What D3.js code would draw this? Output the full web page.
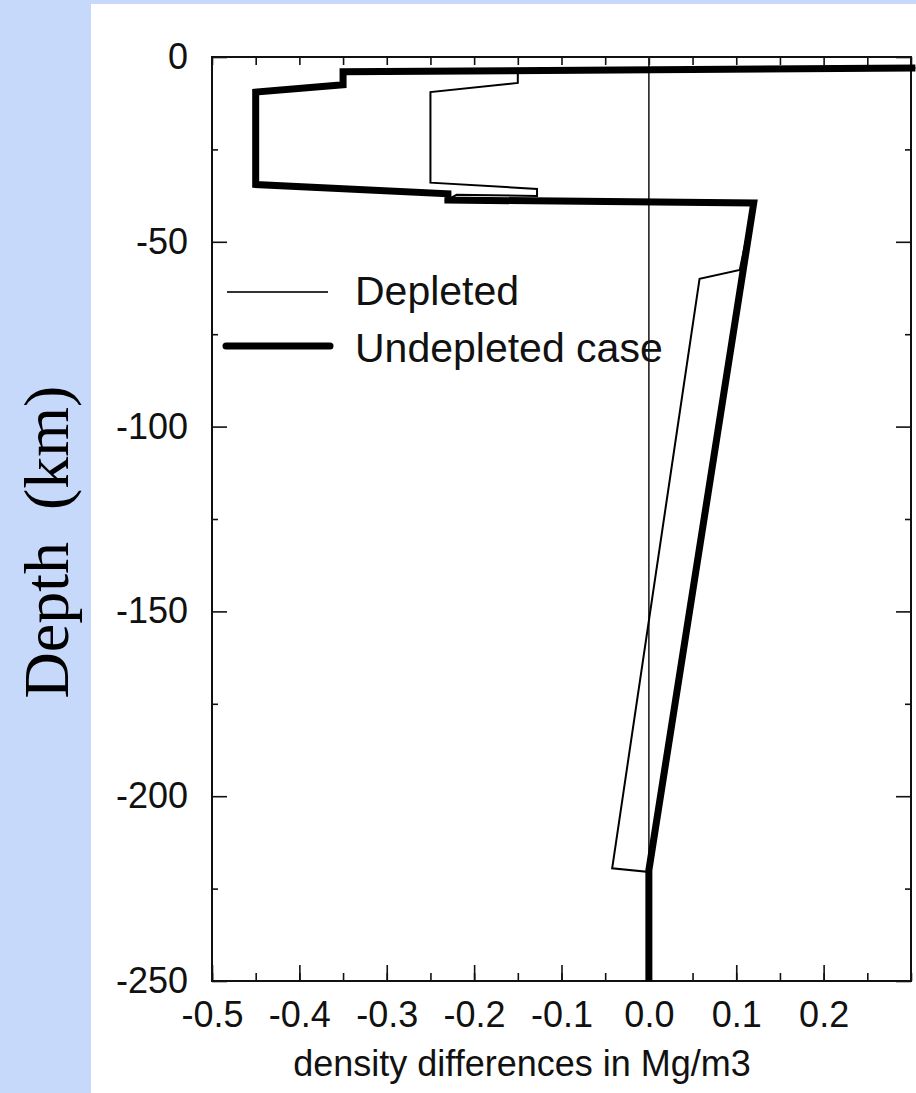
<!DOCTYPE html>
<html>
<head>
<meta charset="utf-8">
<script src="https://cdn.jsdelivr.net/npm/d3@7"></script>
<style>
  html, body { margin: 0; padding: 0; background: #c6d9fb; }
  svg { display: block; }
</style>
</head>
<body>
<script>
// Density contrast profiles (Mg/m3) against depth (km)
const depletedDensity   = [0.305, -0.15, -0.15, -0.25, -0.25, -0.128, -0.128, -0.22, -0.23, 0.12, 0.104, 0.058, -0.042, 0.0, 0.0];
const depletedDepth     = [-3, -3.5, -7, -9.5, -34, -35.7, -37.6, -37.3, -38.6, -39.5, -57.6, -60, -219.5, -220.5, -250];
const undepletedDensity = [0.305, -0.35, -0.35, -0.45, -0.45, -0.23, -0.23, 0.12, 0.0, 0.0];
const undepletedDepth   = [-3, -4, -7.5, -9.5, -34.5, -37, -38.7, -39.5, -220, -250];

const xTickValues = [-0.5, -0.4, -0.3, -0.2, -0.1, 0.0, 0.1, 0.2];
const xTickLabels = ["-0.5", "-0.4", "-0.3", "-0.2", "-0.1", "0.0", "0.1", "0.2"];
const yTickValues = [0, -50, -100, -150, -200, -250];
const yTickLabels = ["0", "-50", "-100", "-150", "-200", "-250"];
const xMinorValues = d3.range(-0.5, 0.301, 0.05).map(v => +v.toFixed(2));
const yMinorValues = [-25, -75, -125, -175, -225];

const legendNames = ["Depleted", "Undepleted case"];

const W = 916, H = 1093;
const frame = { left: 212, right: 911, top: 57, bottom: 981 };

const svg = d3.select("body").append("svg").attr("width", W).attr("height", H);

// white panel
svg.append("rect").attr("x", 91).attr("y", 4).attr("width", W - 91).attr("height", H - 4).attr("fill", "#ffffff");

const x = d3.scaleLinear().domain([-0.5, 0.3]).range([frame.left, frame.right]);
const y = d3.scaleLinear().domain([-250, 0]).range([frame.bottom, frame.top]);

const sansFont = "'Liberation Sans', Arial, Helvetica, sans-serif";

function styleAxis(g, fs) {
  g.select(".domain").remove();
  g.selectAll("line").attr("stroke", "#111").attr("stroke-width", 1.6);
  g.selectAll("text").attr("fill", "#111").style("font-family", sansFont).style("font-size", fs + "px");
}

// bottom axis: labelled major ticks + minor ticks, pointing inward
svg.append("g").attr("transform", `translate(0,${frame.bottom})`)
  .call(d3.axisBottom(x).tickValues(xMinorValues).tickSize(-8).tickFormat(""))
  .call(g => styleAxis(g, 36));
svg.append("g").attr("transform", `translate(0,${frame.bottom})`)
  .call(d3.axisBottom(x).tickValues(xTickValues).tickSize(-16).tickPadding(20)
    .tickFormat((d, i) => xTickLabels[i]))
  .call(g => styleAxis(g, 36));

// top axis ticks
svg.append("g").attr("transform", `translate(0,${frame.top})`)
  .call(d3.axisTop(x).tickValues(xMinorValues).tickSize(-8).tickFormat(""))
  .call(g => styleAxis(g, 36));

// left axis
svg.append("g").attr("transform", `translate(${frame.left},0)`)
  .call(d3.axisLeft(y).tickValues(yMinorValues).tickSize(-6).tickFormat(""))
  .call(g => styleAxis(g, 36));
svg.append("g").attr("transform", `translate(${frame.left},0)`)
  .call(d3.axisLeft(y).tickValues(yTickValues).tickSize(-15).tickPadding(24)
    .tickFormat((d, i) => yTickLabels[i]))
  .call(g => styleAxis(g, 36));

// right axis ticks
svg.append("g").attr("transform", `translate(${frame.right},0)`)
  .call(d3.axisRight(y).tickValues(yMinorValues).tickSize(-6).tickFormat(""))
  .call(g => styleAxis(g, 36));
svg.append("g").attr("transform", `translate(${frame.right},0)`)
  .call(d3.axisRight(y).tickValues(yTickValues).tickSize(-15).tickFormat(""))
  .call(g => styleAxis(g, 36));

// frame
svg.append("rect")
  .attr("x", frame.left).attr("y", frame.top)
  .attr("width", frame.right - frame.left).attr("height", frame.bottom - frame.top)
  .attr("fill", "none").attr("stroke", "#111").attr("stroke-width", 2);

// zero reference line
svg.append("line")
  .attr("x1", x(0)).attr("x2", x(0)).attr("y1", y(0)).attr("y2", y(-250))
  .attr("stroke", "#222").attr("stroke-width", 1.6);

const line = d3.line().x(d => x(d[0])).y(d => y(d[1]));

const depleted = depletedDensity.map((v, i) => [v, depletedDepth[i]]);
const undepleted = undepletedDensity.map((v, i) => [v, undepletedDepth[i]]);

svg.append("path").datum(undepleted).attr("d", line)
  .attr("fill", "none").attr("stroke", "#000").attr("stroke-width", 7)
  .attr("stroke-linejoin", "miter");
svg.append("path").datum(depleted).attr("d", line)
  .attr("fill", "none").attr("stroke", "#000").attr("stroke-width", 2)
  .attr("stroke-linejoin", "miter");

// legend
const legend = svg.append("g");
legend.append("line").attr("x1", 227).attr("x2", 328).attr("y1", 292).attr("y2", 292)
  .attr("stroke", "#333").attr("stroke-width", 2);
legend.append("line").attr("x1", 226).attr("x2", 330).attr("y1", 346).attr("y2", 346)
  .attr("stroke", "#000").attr("stroke-width", 7).attr("stroke-linecap", "round");
legend.selectAll("text.leg").data(legendNames).enter().append("text")
  .attr("class", "leg")
  .attr("x", 355).attr("y", (d, i) => i === 0 ? 305 : 362)
  .style("font-family", sansFont).style("font-size", "41px").attr("fill", "#111")
  .text(d => d);

// axis titles
svg.append("text")
  .attr("x", 522).attr("y", 1076)
  .attr("text-anchor", "middle")
  .style("font-family", sansFont).style("font-size", "36px").attr("fill", "#111")
  .text("density differences in Mg/m3");

svg.append("text")
  .attr("transform", "translate(68,542) rotate(-90)")
  .attr("text-anchor", "middle")
  .style("font-family", "'Liberation Serif', 'Times New Roman', serif")
  .style("font-size", "64px").style("white-space", "pre").attr("fill", "#000")
  .text("Depth  (km)");
</script>
</body>
</html>
